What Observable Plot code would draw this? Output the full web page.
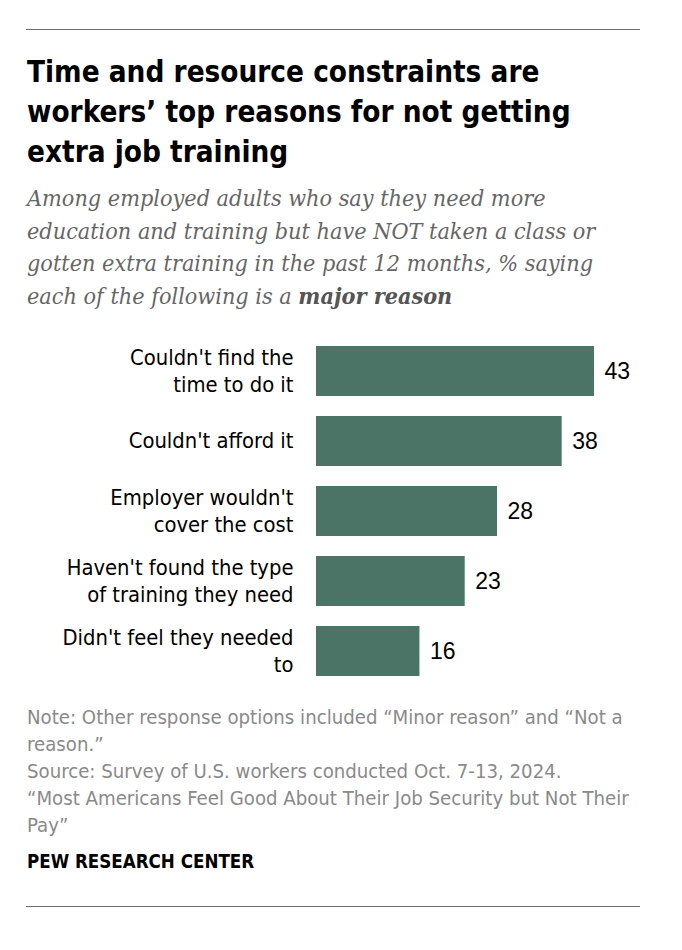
<!DOCTYPE html>
<html>
<head>
<meta charset="utf-8">
<script src="https://cdn.jsdelivr.net/npm/d3@7"></script>
<script src="https://cdn.jsdelivr.net/npm/@observablehq/plot@0.6"></script>
<style>
  html, body { margin: 0; padding: 0; background: #fff; }
  #wrap { position: relative; width: 682px; height: 950px; overflow: hidden; }
  .rule { position: absolute; left: 26px; width: 614px; height: 0; border-top: 1.5px solid #6b6b6b; }
  #title { position: absolute; left: 27px; top: 52px; width: 640px; font-family: "DejaVu Sans Condensed", "DejaVu Sans", sans-serif; font-stretch: condensed; font-weight: bold; font-size: 29.4px; line-height: 40px; color: #000; }
  #subtitle { position: absolute; left: 27px; top: 182px; width: 660px; font-family: "DejaVu Serif Condensed", "DejaVu Serif", serif; font-stretch: condensed; font-style: italic; font-size: 23.2px; line-height: 32.5px; color: #666; }
  #subtitle b { color: #555; }
  #notes { position: absolute; left: 27px; top: 704px; width: 655px; font-family: "DejaVu Sans Condensed", "DejaVu Sans", sans-serif; font-stretch: condensed; font-size: 20.2px; line-height: 27px; color: #8a8a8a; }
  #pew { position: absolute; left: 27px; top: 849px; font-family: "DejaVu Sans Condensed", "DejaVu Sans", sans-serif; font-stretch: condensed; font-weight: bold; font-size: 18.6px; line-height: 26px; color: #000; }
  #chart { position: absolute; left: 0; top: 323px; }
</style>
</head>
<body>
<div id="wrap">
  <div class="rule" style="top:29px"></div>
  <div id="title">Time and resource constraints are<br>workers’ top reasons for not getting<br>extra job training</div>
  <div id="subtitle">Among employed adults who say they need more<br>education and training but have NOT taken a class or<br>gotten extra training in the past 12 months, % saying<br>each of the following is a <b>major reason</b></div>
  <div id="chart"></div>
  <div id="notes">Note: Other response options included “Minor reason” and “Not a<br>reason.”<br>Source: Survey of U.S. workers conducted Oct. 7-13, 2024.<br>“Most Americans Feel Good About Their Job Security but Not Their<br>Pay”</div>
  <div id="pew">PEW RESEARCH CENTER</div>
  <div class="rule" style="top:906px"></div>
</div>
<script>
const reasons = [
  "Couldn't find the\ntime to do it",
  "Couldn't afford it",
  "Employer wouldn't\ncover the cost",
  "Haven't found the type\nof training they need",
  "Didn't feel they needed\nto"
];
const majorReason = [43, 38, 28, 23, 16];

const data = reasons.map((r, i) => ({reason: r, value: majorReason[i]}));

const chart = Plot.plot({
  width: 682,
  height: 376,
  marginLeft: 316,
  marginRight: 88,
  marginTop: 11,
  marginBottom: 11,
  x: {domain: [0, 43], axis: null},
  y: {domain: reasons, axis: null, paddingInner: 0.285, paddingOuter: 0.1425},
  style: {fontFamily: "'DejaVu Sans Condensed', 'DejaVu Sans', sans-serif", fontStretch: "condensed"},
  marks: [
    Plot.barX(data, {x: "value", y: "reason", fill: "#4b7467"}),
    Plot.text(data, {
      x: 0, y: "reason", text: "reason", textAnchor: "end", dx: -23, dy: -2,
      fontSize: 21.8, lineHeight: 1.25, fill: "#000"
    }),
    Plot.text(data, {
      x: "value", y: "reason", text: d => String(d.value), textAnchor: "start", dx: 10,
      fontSize: 23, fill: "#000", fontFamily: "'Liberation Sans', Arial, sans-serif"
    })
  ]
});
document.getElementById("chart").appendChild(chart);
</script>
</body>
</html>
